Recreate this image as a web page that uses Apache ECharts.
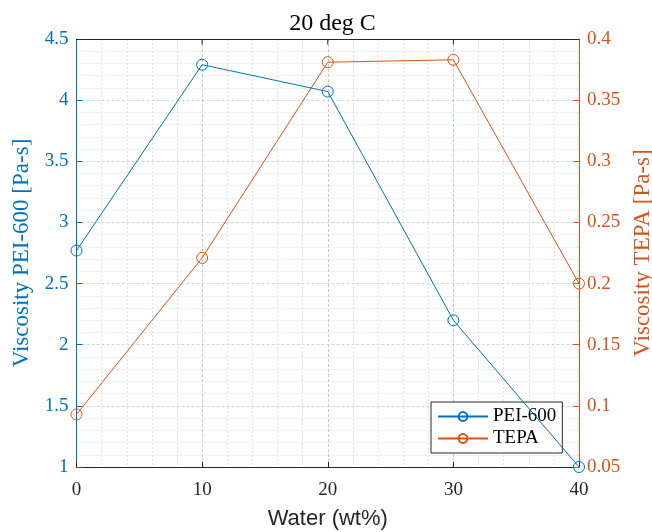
<!DOCTYPE html>
<html>
<head>
<meta charset="utf-8">
<script src="https://cdn.jsdelivr.net/npm/echarts@6/dist/echarts.min.js"></script>
<style>
  html, body { margin: 0; padding: 0; background: #fff; }
  #chart { width: 652px; height: 532px; }
</style>
</head>
<body>
<div id="chart"></div>
<script>
// Water content (wt%) on the x axis
const water = [0, 10, 20, 30, 40];
// Viscosity of PEI-600 (left axis, Pa-s)
const pei600 = [2.77, 4.29, 4.07, 2.2, 1.0];
// Viscosity of TEPA (right axis, Pa-s)
const tepa = [0.093, 0.221, 0.381, 0.383, 0.2];

const BLUE = '#0072BD';
const ORANGE = '#D95319';
const INK = '#262626';
const SERIF = '"Liberation Serif", "DejaVu Serif", serif';

const GRID = { left: 76.5, right: 73, top: 39, bottom: 65 };

const chart = echarts.init(document.getElementById('chart'), null, { renderer: 'canvas' });

chart.setOption({
  animation: false,
  backgroundColor: '#fff',
  title: {
    text: '20 deg C',
    left: 327.5,
    textAlign: 'center',
    top: 7,
    textStyle: { fontFamily: SERIF, fontSize: 24, fontWeight: 'normal', color: '#000' }
  },
  grid: Object.assign({ containLabel: false, outerBoundsMode: 'none' }, GRID),
  legend: {
    orient: 'vertical',
    left: 431,
    top: 402,
    backgroundColor: '#fff',
    borderColor: INK,
    borderWidth: 1,
    borderRadius: 0,
    padding: [5, 6, 5, 6],
    itemGap: 3,
    itemWidth: 50,
    itemHeight: 11,
    textStyle: { fontFamily: SERIF, fontSize: 19, color: '#000' },
    data: ['PEI-600', 'TEPA']
  },
  xAxis: {
    type: 'value',
    min: 0,
    max: 40,
    interval: 10,
    name: 'Water (wt%)',
    nameLocation: 'middle',
    nameGap: 41,
    nameTextStyle: { fontFamily: '"Liberation Sans", Arial, sans-serif', fontSize: 22, color: INK },
    axisLine: { show: true, onZero: false, lineStyle: { color: INK, width: 1 } },
    axisTick: { show: true, inside: true, length: 5, lineStyle: { color: INK } },
    axisLabel: { fontFamily: SERIF, fontSize: 19, color: INK, margin: 14 },
    splitLine: { show: true, lineStyle: { color: '#c9c9c9', type: [3, 2], width: 1 } },
    minorTick: { show: false, splitNumber: 5 },
    minorSplitLine: { show: true, lineStyle: { color: '#e2e2e2', type: [2, 2], width: 1 } }
  },
  yAxis: [
    {
      type: 'value',
      position: 'left',
      min: 1,
      max: 4.5,
      interval: 0.5,
      name: 'Viscosity PEI-600 [Pa-s]',
      nameLocation: 'middle',
      nameGap: 41,
      nameRotate: 90,
      nameTextStyle: { fontFamily: SERIF, fontSize: 23, color: BLUE },
      axisLine: { show: true, lineStyle: { color: BLUE, width: 1 } },
      axisTick: { show: true, inside: true, length: 6, lineStyle: { color: BLUE } },
      axisLabel: { fontFamily: SERIF, fontSize: 19, color: BLUE, margin: 8 },
      splitLine: { show: true, lineStyle: { color: '#c6d7e6', type: [3, 2], width: 1 } },
      minorTick: { show: false, splitNumber: 5 },
      minorSplitLine: { show: true, lineStyle: { color: '#dde8f1', type: [2, 2], width: 1 } }
    },
    {
      type: 'value',
      position: 'right',
      min: 0.05,
      max: 0.4,
      interval: 0.05,
      name: 'Viscosity TEPA [Pa-s]',
      nameLocation: 'middle',
      nameGap: 49,
      nameRotate: 90,
      nameTextStyle: { fontFamily: SERIF, fontSize: 23, color: ORANGE },
      axisLine: { show: true, lineStyle: { color: ORANGE, width: 1 } },
      axisTick: { show: true, inside: true, length: 6, lineStyle: { color: ORANGE } },
      axisLabel: {
        fontFamily: SERIF, fontSize: 19, color: ORANGE, margin: 8,
        formatter: v => String(+v.toFixed(2))
      },
      splitLine: { show: false }
    }
  ],
  series: [
    {
      name: 'PEI-600',
      type: 'line',
      yAxisIndex: 0,
      data: water.map((x, i) => [x, pei600[i]]),
      symbol: 'circle',
      symbolSize: 11,
      color: BLUE,
      lineStyle: { width: 1, color: BLUE },
      itemStyle: { color: 'rgba(255,255,255,0)', borderColor: BLUE, borderWidth: 1 },
      z: 5
    },
    {
      name: 'TEPA',
      type: 'line',
      yAxisIndex: 1,
      data: water.map((x, i) => [x, tepa[i]]),
      symbol: 'circle',
      symbolSize: 11,
      color: ORANGE,
      lineStyle: { width: 1, color: ORANGE },
      itemStyle: { color: 'rgba(255,255,255,0)', borderColor: ORANGE, borderWidth: 1 },
      z: 4
    }
  ]
});

// top frame edge with inside ticks at the major x positions
const topY = GRID.top + 0.5;
const topTicks = [10, 20, 30].map(v => {
  const px = chart.convertToPixel({ xAxisIndex: 0 }, v);
  return {
    type: 'line',
    shape: { x1: px, y1: topY, x2: px, y2: topY + 5 },
    style: { stroke: INK, lineWidth: 1 },
    z: 10
  };
});
chart.setOption({
  graphic: [
    {
      type: 'line',
      shape: { x1: GRID.left, y1: topY, x2: 652 - GRID.right, y2: topY },
      style: { stroke: INK, lineWidth: 1 },
      z: 10
    },
    ...topTicks
  ]
});
</script>
</body>
</html>
